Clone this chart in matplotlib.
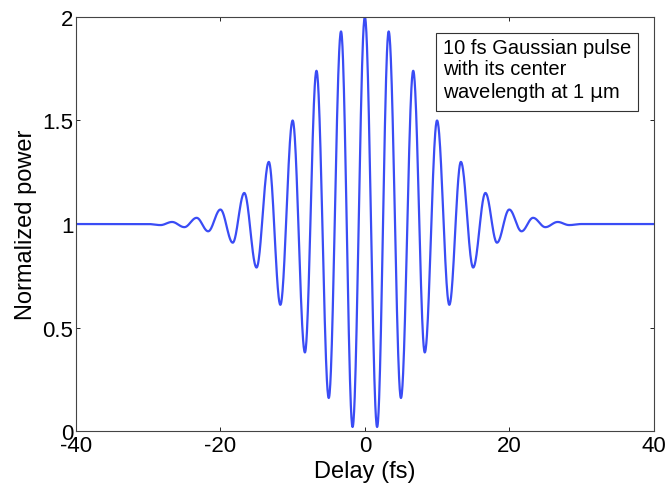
import numpy as np
import matplotlib.pyplot as plt

plt.rcParams['font.family'] = ['Liberation Sans', 'DejaVu Sans']
plt.rcParams['axes.unicode_minus'] = False

# Extrema of the trace (delay in fs, normalized power)
delay_pts = [-40, -30, -28.3, -26.7, -25, -23.3, -21.7, -20, -18.3, -16.7, -15,
             -13.3, -11.7, -10, -8.3, -6.7, -5, -3.3, -1.7, 0,
             1.7, 3.3, 5, 6.7, 8.3, 10, 11.7, 13.3, 15, 16.7,
             18.3, 20, 21.7, 23.3, 25, 26.7, 28.3, 30, 40]
power_pts = [1.0, 1.0, 0.995, 1.01, 0.985, 1.03, 0.965, 1.07, 0.91, 1.15, 0.79,
             1.30, 0.61, 1.50, 0.38, 1.74, 0.16, 1.93, 0.02, 2.0,
             0.02, 1.93, 0.16, 1.74, 0.38, 1.50, 0.61, 1.30, 0.79, 1.15,
             0.91, 1.07, 0.965, 1.03, 0.985, 1.01, 0.995, 1.0, 1.0]

xticks = [-40, -20, 0, 20, 40]
yticks = [0, 0.5, 1, 1.5, 2]
note = '10 fs Gaussian pulse\nwith its center\nwavelength at 1 $\\mathrm{\\mu}$m'


# smooth (half-cosine) rendering between the read extrema
def smooth_curve(xs, ys, n=40):
    xo, yo = [], []
    for i in range(len(xs) - 1):
        t = np.linspace(0, 1, n, endpoint=False)
        w = (1 - np.cos(np.pi * t)) / 2
        xo.append(xs[i] + (xs[i + 1] - xs[i]) * t)
        yo.append(ys[i] + (ys[i + 1] - ys[i]) * w)
    xo.append([xs[-1]])
    yo.append([ys[-1]])
    return np.concatenate(xo), np.concatenate(yo)


x, y = smooth_curve(delay_pts, power_pts)

fig = plt.figure(figsize=(6.67, 4.85), dpi=100)
ax = fig.add_axes([0.114, 0.109, 0.866, 0.854])
ax.plot(x, y, color='#3a4cf5', linewidth=1.6)

ax.set_xlim(-40, 40)
ax.set_ylim(0, 2)
ax.set_xticks(xticks)
ax.set_xticklabels([str(v) for v in xticks])
ax.set_yticks(yticks)
ax.set_yticklabels(['0', '0.5', '1', '1.5', '2'])
ax.tick_params(direction='in', length=3, width=0.6, labelsize=16, top=True,
               right=True)
ax.tick_params(axis='x', pad=3)
ax.tick_params(axis='y', pad=2)
for s in ax.spines.values():
    s.set_linewidth(0.8)
    s.set_color('#444444')

ax.set_xlabel('Delay (fs)', fontsize=17, labelpad=3)
ax.set_ylabel('Normalized power', fontsize=17, labelpad=4)

# annotation box (white box drawn separately so it can be wider than the text)
ax.text(0.635, 0.95, note, transform=ax.transAxes, fontsize=14.5, va='top',
        ha='left', linespacing=1.15,
        bbox=dict(boxstyle='square,pad=0.35', fc='white', ec='#333333', lw=0.8))

fig.savefig('out.png', dpi=100)
